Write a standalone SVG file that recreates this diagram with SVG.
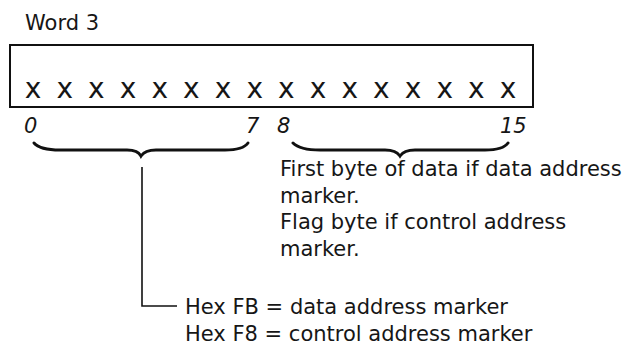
<svg xmlns="http://www.w3.org/2000/svg" width="627" height="349" viewBox="0 0 627 349">
<style>
.t{font-family:"DejaVu Sans",sans-serif;font-size:21px;fill:#161616}
.n{font-family:"DejaVu Sans",sans-serif;font-size:21px;font-style:italic;fill:#161616}
.x{font-family:"DejaVu Sans",sans-serif;font-size:28px;fill:#161616;text-anchor:middle}
.br{fill:none;stroke:#111;stroke-width:3;stroke-linecap:round}
.ln{fill:none;stroke:#111;stroke-width:1.6}
</style>
<rect width="627" height="349" fill="#fff"/>
<g id="word3">
<text class="t" x="25" y="30">Word 3</text>
<rect x="10" y="45" width="523" height="62" fill="none" stroke="#111" stroke-width="2"/>
<text class="x" y="98"><tspan x="33">x</tspan><tspan x="64.7">x</tspan><tspan x="96.3">x</tspan><tspan x="128">x</tspan><tspan x="159.7">x</tspan><tspan x="191.3">x</tspan><tspan x="223">x</tspan><tspan x="254.7">x</tspan><tspan x="286.3">x</tspan><tspan x="318">x</tspan><tspan x="349.7">x</tspan><tspan x="381.3">x</tspan><tspan x="413">x</tspan><tspan x="444.7">x</tspan><tspan x="476.3">x</tspan><tspan x="508">x</tspan></text>
<text class="n" x="24" y="133">0</text>
<text class="n" x="246" y="133">7</text>
<text class="n" x="277" y="133">8</text>
<text class="n" x="500" y="133">15</text>
</g>
<g id="brace-high">
<path class="br" d="M293,143 Q300,150 320,150 L385,150 Q396,150 400,156 Q404,150 415,150 L485,150 Q503,150 508,143"/>
<text class="t" x="280" y="176">First byte of data if data address</text>
<text class="t" x="280" y="203">marker.</text>
<text class="t" x="280" y="229">Flag byte if control address</text>
<text class="t" x="280" y="256">marker.</text>
</g>
<g id="brace-low">
<path class="br" d="M34,143 Q40,150 60,150 L127,150 Q138,150 141,156 Q145,150 156,150 L225,150 Q243,150 248,143"/>
<text class="t" x="185" y="314">Hex FB = data address marker</text>
<text class="t" x="185" y="341">Hex F8 = control address marker</text>
</g>
<g id="connectors">
<path class="ln" d="M142,167 L142,306 L177,306"/>
</g>
</svg>
